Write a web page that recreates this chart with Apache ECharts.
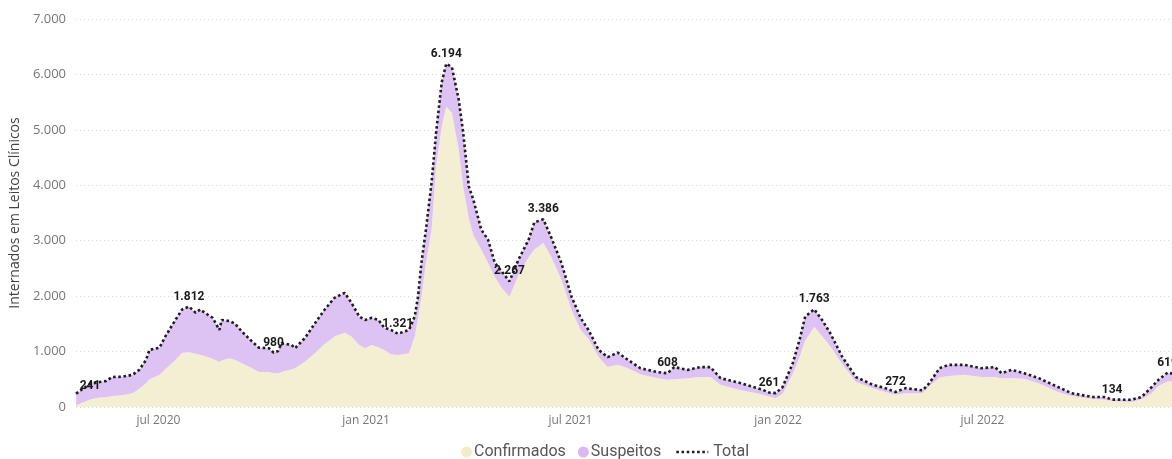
<!DOCTYPE html>
<html>
<head>
<meta charset="utf-8">
<script src="https://cdn.jsdelivr.net/npm/echarts@6/dist/echarts.min.js"></script>
<style>
html,body{margin:0;padding:0;background:#fff;}
#chart{width:1172px;height:459px;}
</style>
</head>
<body>
<div id="chart"></div>
<script>
const dates = [
'2020-04-19','2020-04-25','2020-05-02','2020-05-10','2020-05-16','2020-05-21','2020-05-30','2020-06-08','2020-06-14','2020-06-20',
'2020-06-23','2020-07-02','2020-07-07','2020-07-16','2020-07-22','2020-07-28','2020-08-03','2020-08-07','2020-08-11','2020-08-18',
'2020-08-24','2020-08-26','2020-09-02','2020-09-07','2020-09-13','2020-09-22','2020-09-28','2020-10-07','2020-10-11','2020-10-15',
'2020-10-18','2020-10-27','2020-10-30','2020-11-08','2020-11-17','2020-11-25','2020-12-04','2020-12-13','2020-12-19','2020-12-26',
'2020-12-31','2021-01-06','2021-01-12','2021-01-17','2021-01-23','2021-01-29','2021-02-08','2021-02-13','2021-02-16','2021-02-19',
'2021-02-23','2021-02-28','2021-03-04','2021-03-09','2021-03-13','2021-03-18','2021-03-24','2021-03-28','2021-04-02','2021-04-06',
'2021-04-13','2021-04-19','2021-04-25','2021-05-01','2021-05-08','2021-05-16','2021-05-25','2021-05-30','2021-06-07','2021-06-14',
'2021-06-23','2021-07-02','2021-07-10','2021-07-17','2021-07-26','2021-08-03','2021-08-12','2021-08-21','2021-09-01','2021-09-16',
'2021-09-25','2021-10-01','2021-10-13','2021-10-24','2021-11-02','2021-11-11','2021-11-29','2021-12-10','2021-12-17','2021-12-24',
'2021-12-30','2022-01-05','2022-01-14','2022-01-20','2022-01-25','2022-02-02','2022-02-09','2022-02-16','2022-02-27','2022-03-11',
'2022-03-26','2022-04-06','2022-04-15','2022-04-24','2022-05-09','2022-05-15','2022-05-24','2022-06-01','2022-06-15','2022-06-30',
'2022-07-12','2022-07-18','2022-07-27','2022-08-07','2022-08-20','2022-09-06','2022-09-18','2022-10-06','2022-10-17','2022-10-24',
'2022-11-10','2022-11-19','2022-11-28','2022-12-04','2022-12-12','2022-12-23'
];
const confirmados = [
30,80,140,170,175,200,210,250,330,430,
500,580,680,850,980,990,960,940,920,870,
810,840,880,850,790,700,630,630,610,610,
630,680,700,820,980,1130,1270,1340,1270,1120,
1060,1120,1080,1030,950,940,970,1270,1600,1990,
2600,3200,4340,5060,5420,5310,4650,3980,3400,3100,
2840,2600,2350,2150,1990,2380,2700,2840,2960,2710,
2300,1750,1390,1230,900,720,760,700,590,520,
490,500,520,540,540,400,300,260,230,190,
160,240,600,900,1200,1450,1280,1100,770,450,
340,270,220,250,250,380,530,560,580,540,
540,520,520,510,430,270,200,150,130,110,
90,140,250,380,460,470
];
const suspeitos = [
211,250,280,282,295,342,335,330,340,420,
530,490,590,720,780,822,740,820,780,740,
580,730,670,650,570,480,440,430,370,400,
520,440,360,430,540,620,700,720,610,510,
510,490,490,400,440,381,420,360,390,610,
600,850,610,800,774,820,900,970,580,640,
360,420,250,300,277,280,320,490,426,350,
300,240,220,160,130,180,220,150,110,110,
118,220,150,180,180,120,130,100,90,71,
90,120,190,310,430,313,290,240,130,90,
60,70,52,90,50,50,170,200,180,160,
180,90,150,100,90,90,50,30,50,24,
40,40,110,110,159,110
];
const total = [
241,330,420,452,470,542,545,580,670,850,
1030,1070,1270,1570,1760,1812,1700,1760,1700,1610,
1390,1570,1550,1500,1360,1180,1070,1060,980,1010,
1150,1120,1060,1250,1520,1750,1970,2060,1880,1630,
1570,1610,1570,1430,1390,1321,1390,1630,1990,2600,
3200,4050,4950,5860,6194,6130,5550,4950,3980,3740,
3200,3020,2600,2450,2267,2660,3020,3330,3386,3060,
2600,1990,1610,1390,1030,900,980,850,700,630,
608,720,670,720,720,520,430,360,320,261,
250,360,790,1210,1630,1763,1570,1340,900,540,
400,340,272,340,300,430,700,760,760,700,
720,610,670,610,520,360,250,180,180,134,
130,180,360,490,619,580
];
const labeledDates = ['2020-04-19','2020-07-28','2020-10-11','2021-01-29','2021-03-13','2021-05-08','2021-06-07','2021-09-25','2021-12-24','2022-02-02','2022-04-15','2022-10-24','2022-12-12'];
const xTickDates = ['2020-07-01','2021-01-01','2021-07-01','2022-01-01','2022-07-01'];
const xTickLabels = ['jul 2020','jan 2021','jul 2021','jan 2022','jul 2022'];
const xRange = ['2020-04-19','2022-12-16'];
const yMax = 7000, yStep = 1000;

function ts(s){ const p = s.split('-').map(Number); return new Date(p[0], p[1]-1, p[2]).getTime(); }
function fmt(v){ return String(v).replace(/\B(?=(\d{3})+(?!\d))/g, '.'); }
function dayKey(v){ const d = new Date(v); return d.getFullYear() * 10000 + (d.getMonth() + 1) * 100 + d.getDate(); }

const xTs = dates.map(ts);
const tickKeys = xTickDates.map(s => dayKey(ts(s)));

const chart = echarts.init(document.getElementById('chart'), null, {renderer:'canvas'});
const option = {
  animation: false,
  backgroundColor: '#ffffff',
  grid: {left: 73, right: 0, top: 19, bottom: 52, containLabel: false},
  xAxis: {
    type: 'time',
    min: ts(xRange[0]), max: ts(xRange[1]),
    splitNumber: 5,
    axisLine: {show: false},
    axisTick: {show: false},
    splitLine: {show: false},
    axisLabel: {
      color: '#777777', fontSize: 12, fontFamily: 'Open Sans', margin: 8,
      hideOverlap: false, showMinLabel: false, showMaxLabel: false,
      formatter: function(v){ const i = tickKeys.indexOf(dayKey(v)); return i >= 0 ? xTickLabels[i] : ''; }
    }
  },
  yAxis: {
    type: 'value', min: 0, max: yMax, interval: yStep,
    name: 'Internados em Leitos Clínicos',
    nameLocation: 'middle', nameGap: 50,
    nameTextStyle: {color: '#444444', fontSize: 14, fontFamily: 'Open Sans'},
    axisLine: {show: false}, axisTick: {show: false},
    axisLabel: {color: '#777777', fontSize: 13, fontFamily: 'Open Sans', margin: 10, formatter: fmt},
    splitLine: {show: true, lineStyle: {color: '#d4d4d4', type: [1, 3], width: 1}}
  },
  legend: [
    {
      data: [{name: 'Confirmados', icon: 'circle'}, {name: 'Suspeitos', icon: 'circle'}],
      left: 456, top: 439, itemWidth: 11, itemHeight: 11, itemGap: 12,
      textStyle: {color: '#555555', fontSize: 16, fontFamily: 'Roboto', padding: [0, 0, 0, -3]}
    },
    {
      data: [{name: 'Total'}],
      left: 670, top: 439, itemWidth: 32, itemHeight: 11,
      itemStyle: {color: 'rgba(0,0,0,0)', borderWidth: 0, opacity: 0},
      lineStyle: {color: '#1e1e1e', width: 2.6, type: 'dotted', opacity: 1},
      textStyle: {color: '#555555', fontSize: 16, fontFamily: 'Roboto'}
    }
  ],
  series: [
    {
      name: 'Confirmados', type: 'line', stack: 'a',
      data: xTs.map((t, i) => [t, confirmados[i]]),
      symbol: 'none', lineStyle: {width: 0},
      itemStyle: {color: '#F2ECCB'},
      areaStyle: {color: '#F4EFD2', opacity: 1},
      z: 2
    },
    {
      name: 'Suspeitos', type: 'line', stack: 'a',
      data: xTs.map((t, i) => [t, suspeitos[i]]),
      symbol: 'none', lineStyle: {width: 0},
      itemStyle: {color: '#DAB9F3'},
      areaStyle: {color: '#DDC2F4', opacity: 1},
      z: 2
    },
    {
      name: 'Total', type: 'line',
      data: xTs.map((t, i) => {
        const item = {value: [t, total[i]]};
        if (labeledDates.indexOf(dates[i]) >= 0) {
          item.symbol = 'circle';
          item.symbolSize = 0;
          item.label = {show: true, offset: i === 0 ? [14, 2] : [0, 0]};
        }
        return item;
      }),
      symbol: 'none', showSymbol: true,
      itemStyle: {color: '#222222'},
      lineStyle: {color: '#1e1e1e', width: 2.6, type: 'dotted'},
      label: {
        show: false, position: 'top', distance: 4,
        color: '#1b1b1b', fontWeight: 'bold', fontSize: 12, fontFamily: 'Roboto',
        formatter: p => fmt(p.value[1])
      },
      z: 5
    }
  ]
};
chart.setOption(option);
</script>
</body>
</html>
